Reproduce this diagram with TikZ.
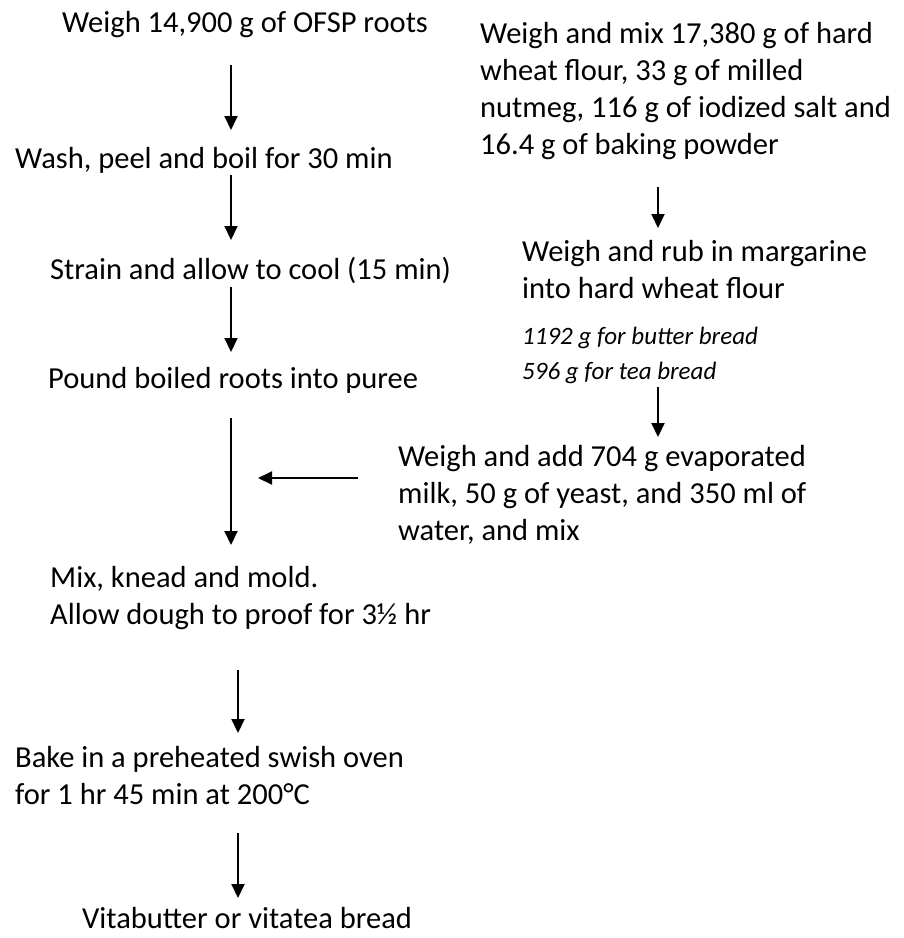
\documentclass[tikz,border=0pt]{standalone}
\usepackage{fontspec}
\setmainfont{Carlito}
\usetikzlibrary{arrows.meta,positioning}
\tikzset{
  txt/.style={anchor=west,inner sep=0pt,align=left,font=\fontsize{30.5}{37}\selectfont},
  note/.style={anchor=west,inner sep=0pt,align=left,font=\itshape\fontsize{25}{35}\selectfont},
  flow/.style={line width=2pt,-{Triangle[length=14pt,width=13pt]}}
}
\begin{document}
\begin{tikzpicture}[x=1pt,y=-1pt]
\useasboundingbox (0,0) rectangle (904,938);
\coordinate (colL) at (231,0);
\coordinate (colM) at (238,0);
\coordinate (colR) at (658,0);
\coordinate (join) at (258,478);

\node[txt] (roots) at (62,25) {Weigh 14,900 g of OFSP roots};
\node[txt] (wash) at (15,160) {Wash, peel and boil for 30 min};
\node[txt] (strain) at (50,270) {Strain and allow to cool (15 min)};
\node[txt] (pound) at (48,380) {Pound boiled roots into puree};
\node[txt] (knead) at (50,598) {Mix, knead and mold.\\Allow dough to proof for 3½ hr};
\node[txt] (bake) at (15,776) {Bake in a preheated swish oven\\for 1 hr 45 min at 200°C};
\node[txt] (bread) at (82,918) {Vitabutter or vitatea bread};
\node[txt] (flour) at (480,91) {Weigh and mix 17,380 g of hard\\wheat flour, 33 g of milled\\nutmeg, 116 g of iodized salt and\\16.4 g of baking powder};
\node[txt] (rub) at (522,270) {Weigh and rub in margarine\\into hard wheat flour};
\node[note] (marg) at (522,355) {1192 g for butter bread\\596 g for tea bread};
\node[txt] (milk) at (398,495) {Weigh and add 704 g evaporated\\milk, 50 g of yeast, and 350 ml of\\water, and mix};

\draw[flow,shorten <=40pt,shorten >=30pt] (roots -| colL) -- (wash -| colL);
\draw[flow,shorten <=15pt,shorten >=30pt] (wash -| colL) -- (strain -| colL);
\draw[flow,shorten <=17pt,shorten >=28pt] (strain -| colL) -- (pound -| colL);
\draw[flow,shorten <=38pt,shorten >=53pt] (pound -| colL) -- (knead -| colL);
\draw[flow,shorten <=72pt,shorten >=43pt] (knead -| colM) -- (bake -| colM);
\draw[flow,shorten <=57pt,shorten >=20pt] (bake -| colM) -- (bread -| colM);
\draw[flow,shorten <=96pt,shorten >=42pt] (flour -| colR) -- (rub -| colR);
\draw[flow,shorten <=32pt,shorten >=58pt] (marg -| colR) -- (milk -| colR);
\draw[flow,shorten <=40pt] (milk.west |- join) -- (join);
\end{tikzpicture}
\end{document}
